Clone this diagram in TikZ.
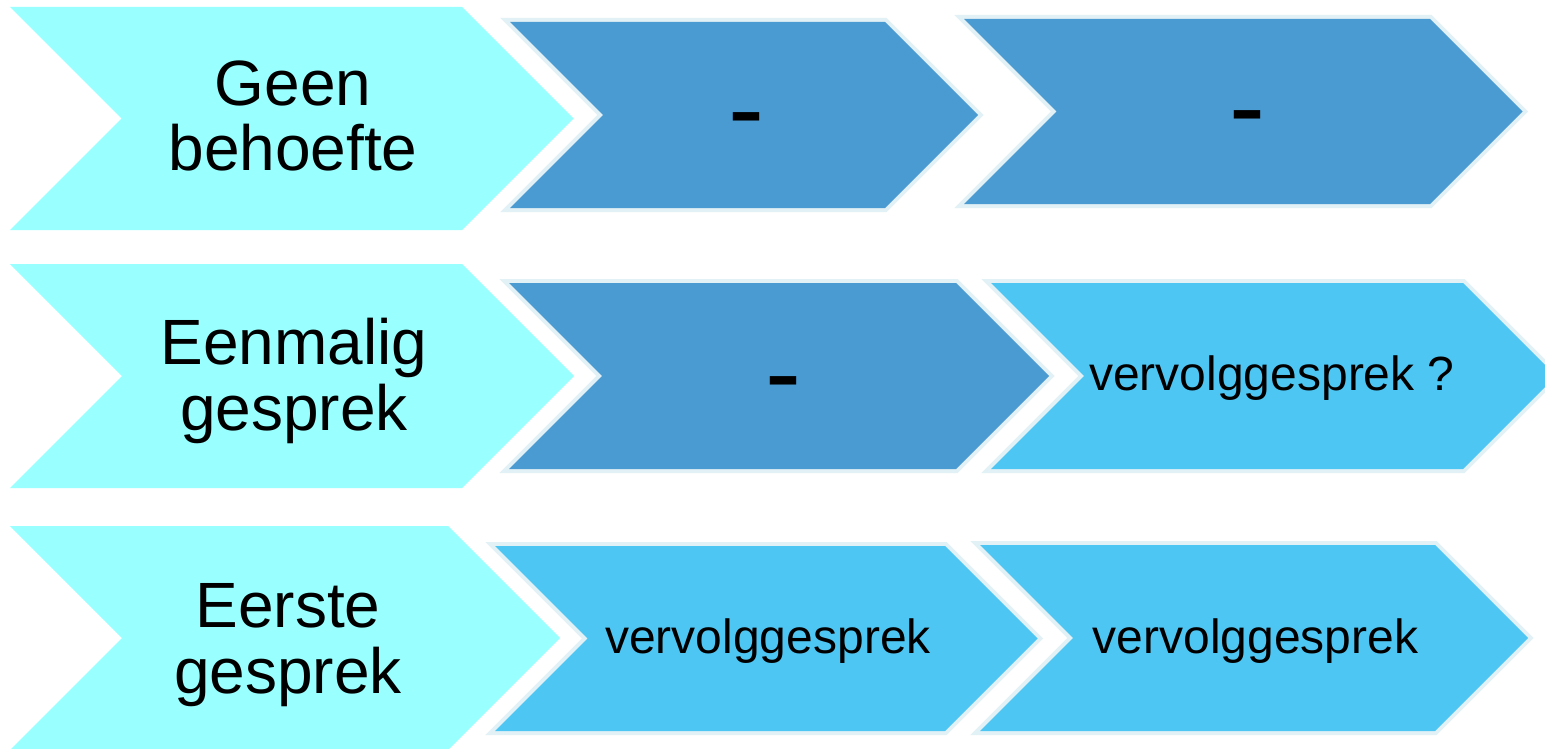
\documentclass[tikz,border=0pt]{standalone}
\usepackage{fontspec}
\setmainfont{Liberation Sans}
\definecolor{lightcyan}{HTML}{99FFFF}
\definecolor{darkblue}{HTML}{4B9BD3}
\definecolor{midblue}{HTML}{4EC6F3}
\definecolor{glowc}{HTML}{E2F1F6}
% chevron: #1 style, #2 x-left, #3 x-right(top corner), #4 y-top, #5 y-bottom
\newcommand\mychev[5]{%
  \pgfmathsetmacro\dpth{(#5-#4)/2}%
  \pgfmathsetmacro\ymid{(#5+#4)/2}%
  \path[#1] (#2,#4) -- (#3,#4) -- ({#3+\dpth},\ymid) -- (#3,#5) -- (#2,#5) -- ({#2+\dpth},\ymid) -- cycle;}
\tikzset{
  lightfill/.style={fill=lightcyan},
  glowline/.style={draw=glowc, line width=8pt, line join=miter},
  darkfill/.style={fill=darkblue},
  midfill/.style={fill=midblue},
  bigtext/.style={font=\fontsize{64}{66}\selectfont, align=center, anchor=base, inner sep=0pt},
  smalltext/.style={font=\fontsize{48}{56}\selectfont, anchor=base, inner sep=0pt},
  dashtext/.style={font=\fontsize{108}{120}\selectfont, anchor=base, inner sep=0pt},
}
\begin{document}
\begin{tikzpicture}[x=1pt,y=-1pt]
\useasboundingbox (0,0) rectangle (1545,749);
\clip (0,0) rectangle (1545,749);
\fill[white] (0,0) rectangle (1545,749);
% row 1
\mychev{lightfill}{10}{462}{7}{230}
\mychev{glowline}{510}{885}{22}{208}
\mychev{darkfill}{510}{885}{22}{208}
\mychev{glowline}{964}{1430}{19}{204}
\mychev{darkfill}{964}{1430}{19}{204}
% row 2
\mychev{lightfill}{10}{462}{264}{488}
\mychev{glowline}{509}{956}{283}{469}
\mychev{darkfill}{509}{956}{283}{469}
\mychev{glowline}{991}{1463}{283}{469}
\mychev{midfill}{991}{1463}{283}{469}
% row 3
\mychev{lightfill}{10}{448}{526}{750}
\mychev{glowline}{495}{945}{546}{731}
\mychev{midfill}{495}{945}{546}{731}
\mychev{glowline}{980}{1435}{545}{731}
\mychev{midfill}{980}{1435}{545}{731}
% texts (anchor=base is the baseline of the last line)
\node[bigtext] (t1) at (293,171) {Geen\\behoefte};
\node[bigtext] (t2) at (294,430) {Eenmalig\\gesprek};
\node[bigtext] (t3) at (288,693) {Eerste\\gesprek};
\node[dashtext] (d1) at (746,146) {-};
\node[dashtext] (d2) at (1247.5,144) {-};
\node[dashtext] (d3) at (783.5,409) {-};
\node[smalltext] (s1) at (1272,390) {vervolggesprek ?};
\node[smalltext] (s2) at (768,653) {vervolggesprek};
\node[smalltext] (s3) at (1255.5,653) {vervolggesprek};
\end{tikzpicture}
\end{document}
